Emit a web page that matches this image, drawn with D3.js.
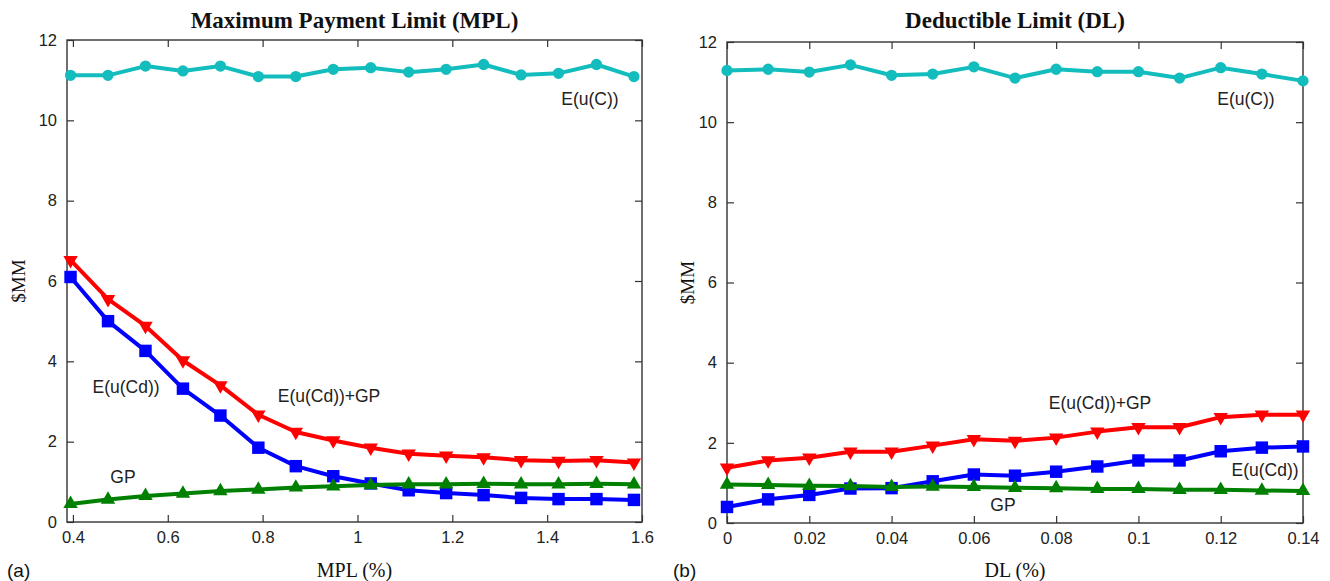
<!DOCTYPE html>
<html>
<head>
<meta charset="utf-8">
<script src="https://cdn.jsdelivr.net/npm/d3@7"></script>
<style>
  html, body { margin: 0; padding: 0; background: #fff; }
  svg { display: block; }
</style>
</head>
<body>
<div id="chart"></div>
<script>
// (a) Maximum Payment Limit
const mplX = [0.395, 0.474, 0.553, 0.632, 0.711, 0.791, 0.870, 0.949, 1.028, 1.108, 1.187, 1.266, 1.345, 1.424, 1.504, 1.583];
const mplEuC = [11.12, 11.12, 11.35, 11.23, 11.35, 11.09, 11.09, 11.27, 11.31, 11.20, 11.27, 11.39, 11.13, 11.17, 11.39, 11.09];
const mplEuCdGP = [6.52, 5.55, 4.88, 4.02, 3.40, 2.67, 2.24, 2.03, 1.85, 1.70, 1.65, 1.61, 1.54, 1.52, 1.54, 1.48];
const mplEuCd = [6.10, 5.00, 4.26, 3.32, 2.65, 1.85, 1.39, 1.14, 0.96, 0.79, 0.72, 0.67, 0.60, 0.57, 0.57, 0.55];
const mplGP = [0.45, 0.56, 0.65, 0.71, 0.77, 0.81, 0.86, 0.89, 0.92, 0.94, 0.94, 0.95, 0.94, 0.94, 0.95, 0.94];
const mplTicks = [0.4, 0.6, 0.8, 1, 1.2, 1.4, 1.6];

// (b) Deductible Limit
const dlX = [0, 0.01, 0.02, 0.03, 0.04, 0.05, 0.06, 0.07, 0.08, 0.09, 0.10, 0.11, 0.12, 0.13, 0.14];
const dlEuC = [11.29, 11.32, 11.25, 11.43, 11.17, 11.20, 11.38, 11.10, 11.32, 11.26, 11.26, 11.10, 11.36, 11.20, 11.03];
const dlEuCdGP = [1.38, 1.56, 1.63, 1.78, 1.78, 1.93, 2.09, 2.05, 2.13, 2.28, 2.39, 2.39, 2.64, 2.70, 2.70];
const dlEuCd = [0.40, 0.59, 0.70, 0.86, 0.87, 1.04, 1.21, 1.18, 1.28, 1.41, 1.56, 1.56, 1.79, 1.88, 1.91];
const dlGP = [0.96, 0.95, 0.93, 0.92, 0.90, 0.91, 0.90, 0.88, 0.87, 0.85, 0.85, 0.83, 0.83, 0.81, 0.80];
const dlTicks = [0, 0.02, 0.04, 0.06, 0.08, 0.1, 0.12, 0.14];

const yTicks = [0, 2, 4, 6, 8, 10, 12];

const W = 1330, H = 581;
const sans = "'Liberation Sans', Arial, sans-serif";
const serif = "'Liberation Serif', 'Times New Roman', serif";

const svg = d3.select("#chart").append("svg")
  .attr("width", W)
  .attr("height", H);

svg.append("rect").attr("width", W).attr("height", H).attr("fill", "#fff");

// series styles: colour + marker
const styles = {
  euc:   { color: "#14bdbd", symbol: d3.symbolCircle, size: 100, rotate: 0 },
  eucdgp:{ color: "#ff0000", symbol: d3.symbolTriangle, size: 90, rotate: 180 },
  eucd:  { color: "#0000ff", symbol: d3.symbolSquare, size: 155, rotate: 0 },
  gp:    { color: "#008000", symbol: d3.symbolTriangle, size: 90, rotate: 0 }
};

function drawPanel(cfg) {
  const x = d3.scaleLinear().domain(cfg.xDomain).range([cfg.left, cfg.right]);
  const y = d3.scaleLinear().domain([0, 12]).range([cfg.bottom, cfg.top]);
  const g = svg.append("g");

  // inward ticks on all four sides
  const tick = 7;
  g.append("g")
    .attr("transform", `translate(0,${cfg.bottom})`)
    .call(d3.axisBottom(x).tickValues(cfg.xTicks).tickFormat(d3.format("~g"))
      .tickSizeInner(-tick).tickSizeOuter(0).tickPadding(9));
  g.append("g")
    .attr("transform", `translate(${cfg.left},0)`)
    .call(d3.axisLeft(y).tickValues(yTicks).tickFormat(d3.format("d"))
      .tickSizeInner(-tick).tickSizeOuter(0).tickPadding(10));
  g.append("g")
    .attr("transform", `translate(0,${cfg.top})`)
    .call(d3.axisTop(x).tickValues(cfg.xTicks).tickFormat("")
      .tickSizeInner(-tick).tickSizeOuter(0));
  g.append("g")
    .attr("transform", `translate(${cfg.right},0)`)
    .call(d3.axisRight(y).tickValues(yTicks).tickFormat("")
      .tickSizeInner(-tick).tickSizeOuter(0));

  g.selectAll(".domain").remove();
  g.selectAll(".tick line").attr("stroke", "#333").attr("stroke-width", 1.2);
  g.selectAll(".tick text")
    .attr("font-family", sans)
    .attr("font-size", 16.5)
    .attr("fill", "#222");

  // frame
  g.append("rect")
    .attr("x", cfg.left).attr("y", cfg.top)
    .attr("width", cfg.right - cfg.left)
    .attr("height", cfg.bottom - cfg.top)
    .attr("fill", "none")
    .attr("stroke", "#333")
    .attr("stroke-width", 1.4);

  // series
  const line = d3.line().x(d => x(d[0])).y(d => y(d[1]));
  cfg.series.forEach(s => {
    const st = styles[s.key];
    const pts = cfg.xs.map((v, i) => [v, s.values[i]]);
    g.append("path")
      .datum(pts)
      .attr("d", line)
      .attr("fill", "none")
      .attr("stroke", st.color)
      .attr("stroke-width", 4)
      .attr("stroke-linejoin", "round");
    g.append("g")
      .selectAll("path")
      .data(pts)
      .join("path")
        .attr("d", d3.symbol().type(st.symbol).size(st.size))
        .attr("transform", d => `translate(${x(d[0])},${y(d[1])}) rotate(${st.rotate})`)
        .attr("fill", st.color);
  });

  // series labels
  cfg.labels.forEach(l => {
    g.append("text")
      .attr("x", l.x).attr("y", l.y)
      .attr("text-anchor", "middle")
      .attr("dominant-baseline", "central")
      .attr("font-family", sans)
      .attr("font-size", 17.5)
      .attr("fill", "#222")
      .text(l.text);
  });

  // title
  g.append("text")
    .attr("x", (cfg.left + cfg.right) / 2)
    .attr("y", 28)
    .attr("text-anchor", "middle")
    .attr("font-family", serif)
    .attr("font-weight", "bold")
    .attr("font-size", 23)
    .attr("fill", "#111")
    .text(cfg.title);

  // x-axis title
  g.append("text")
    .attr("x", (cfg.left + cfg.right) / 2)
    .attr("y", 577)
    .attr("text-anchor", "middle")
    .attr("font-family", serif)
    .attr("font-size", 20)
    .attr("fill", "#111")
    .text(cfg.xTitle);

  // panel letter
  g.append("text")
    .attr("x", cfg.letterX)
    .attr("y", 577)
    .attr("font-family", sans)
    .attr("font-size", 19)
    .attr("fill", "#111")
    .text(cfg.letter);

  // y-axis title
  g.append("text")
    .attr("transform", `translate(${cfg.yTitleX},${(cfg.top + cfg.bottom) / 2}) rotate(-90)`)
    .attr("text-anchor", "middle")
    .attr("font-family", serif)
    .attr("font-size", 19)
    .attr("fill", "#111")
    .text("$MM");
}

drawPanel({
  title: "Maximum Payment Limit (MPL)",
  xTitle: "MPL (%)",
  letter: "(a)",
  letterX: 7,
  yTitleX: 25,
  left: 67, right: 642, top: 40, bottom: 522,
  xDomain: [0.3875, 1.6],
  xTicks: mplTicks,
  xs: mplX,
  series: [
    { key: "euc", values: mplEuC },
    { key: "eucdgp", values: mplEuCdGP },
    { key: "eucd", values: mplEuCd },
    { key: "gp", values: mplGP }
  ],
  labels: [
    { text: "E(u(C))", x: 590, y: 99 },
    { text: "E(u(Cd))", x: 126, y: 387 },
    { text: "E(u(Cd))+GP", x: 329, y: 396 },
    { text: "GP", x: 123, y: 477 }
  ]
});

drawPanel({
  title: "Deductible Limit (DL)",
  xTitle: "DL (%)",
  letter: "(b)",
  letterX: 673,
  yTitleX: 694,
  left: 727, right: 1303, top: 42, bottom: 523,
  xDomain: [0, 0.14],
  xTicks: dlTicks,
  xs: dlX,
  series: [
    { key: "euc", values: dlEuC },
    { key: "eucdgp", values: dlEuCdGP },
    { key: "eucd", values: dlEuCd },
    { key: "gp", values: dlGP }
  ],
  labels: [
    { text: "E(u(C))", x: 1246, y: 99 },
    { text: "E(u(Cd))+GP", x: 1100, y: 403 },
    { text: "E(u(Cd))", x: 1265, y: 470 },
    { text: "GP", x: 1003, y: 505 }
  ]
});
</script>
</body>
</html>
